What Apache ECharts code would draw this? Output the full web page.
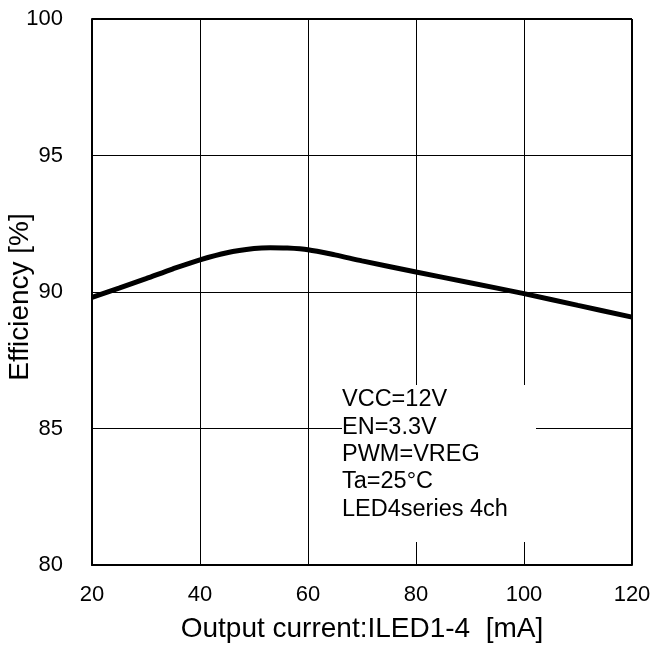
<!DOCTYPE html>
<html>
<head>
<meta charset="utf-8">
<script src="https://cdn.jsdelivr.net/npm/echarts@6/dist/echarts.min.js"></script>
<style>
html,body{margin:0;padding:0;background:#fff;}
#chart{width:650px;height:647px;}
</style>
</head>
<body>
<div id="chart"></div>
<script>
const currents = [20, 25, 30, 35, 40, 45, 50, 53, 56, 60, 65, 70, 80, 90, 100, 110, 120];
const efficiency = [89.80, 90.14, 90.49, 90.85, 91.18, 91.44, 91.59, 91.62, 91.61, 91.55, 91.36, 91.14, 90.73, 90.34, 89.94, 89.51, 89.08];
const noteLines = ['VCC=12V', 'EN=3.3V', 'PWM=VREG', 'Ta=25°C', 'LED4series 4ch'];
const xName = 'Output current:ILED1-4  [mA]';
const yName = 'Efficiency [%]';

const chart = echarts.init(document.getElementById('chart'));
const FONT = 'Liberation Sans, Arial, sans-serif';
chart.setOption({
  backgroundColor: '#fff',
  animation: false,
  grid: {left: 92, right: 18, top: 19, bottom: 82, containLabel: false, outerBoundsMode: 'none'},
  xAxis: {
    type: 'value', min: 20, max: 120, interval: 20,
    name: xName, nameLocation: 'middle', nameGap: 50, nameMoveOverlap: false,
    nameTextStyle: {color: '#000', fontSize: 28, fontFamily: FONT},
    axisLine: {show: true, lineStyle: {color: '#000', width: 2}},
    axisTick: {show: false},
    axisLabel: {color: '#000', fontSize: 22, fontFamily: FONT, margin: 19},
    splitLine: {show: true, lineStyle: {color: '#000', width: 1}}
  },
  yAxis: {
    type: 'value', min: 80, max: 100, interval: 5,
    name: yName, nameLocation: 'middle', nameGap: 58, nameRotate: 90, nameMoveOverlap: false,
    nameTextStyle: {color: '#000', fontSize: 28, fontFamily: FONT, padding: [0, 10, 0, 0]},
    axisLine: {show: true, lineStyle: {color: '#000', width: 2}},
    axisTick: {show: false},
    axisLabel: {color: '#000', fontSize: 22, fontFamily: FONT, margin: 29},
    splitLine: {show: true, lineStyle: {color: '#000', width: 1}}
  },
  series: [{
    type: 'line',
    data: currents.map((c, i) => [c, efficiency[i]]),
    smooth: 0.3,
    showSymbol: false,
    lineStyle: {color: '#000', width: 5},
    z: 3
  }, {
    type: 'line', data: [[20, 100], [120, 100]], showSymbol: false,
    lineStyle: {color: '#000', width: 2}, silent: true, z: 4
  }, {
    type: 'line', data: [[120, 80], [120, 100]], showSymbol: false,
    lineStyle: {color: '#000', width: 2}, silent: true, z: 4
  }],
  graphic: [{
    type: 'rect', left: 342, top: 385, z: 10,
    shape: {width: 194, height: 157},
    style: {fill: '#fff'}
  }, {
    type: 'text', left: 342, top: 386, z: 11,
    style: {
      text: noteLines.join('\n'),
      fill: '#000', fontSize: 23.5, fontFamily: FONT, lineHeight: 27.4
    }
  }]
});
</script>
</body>
</html>
